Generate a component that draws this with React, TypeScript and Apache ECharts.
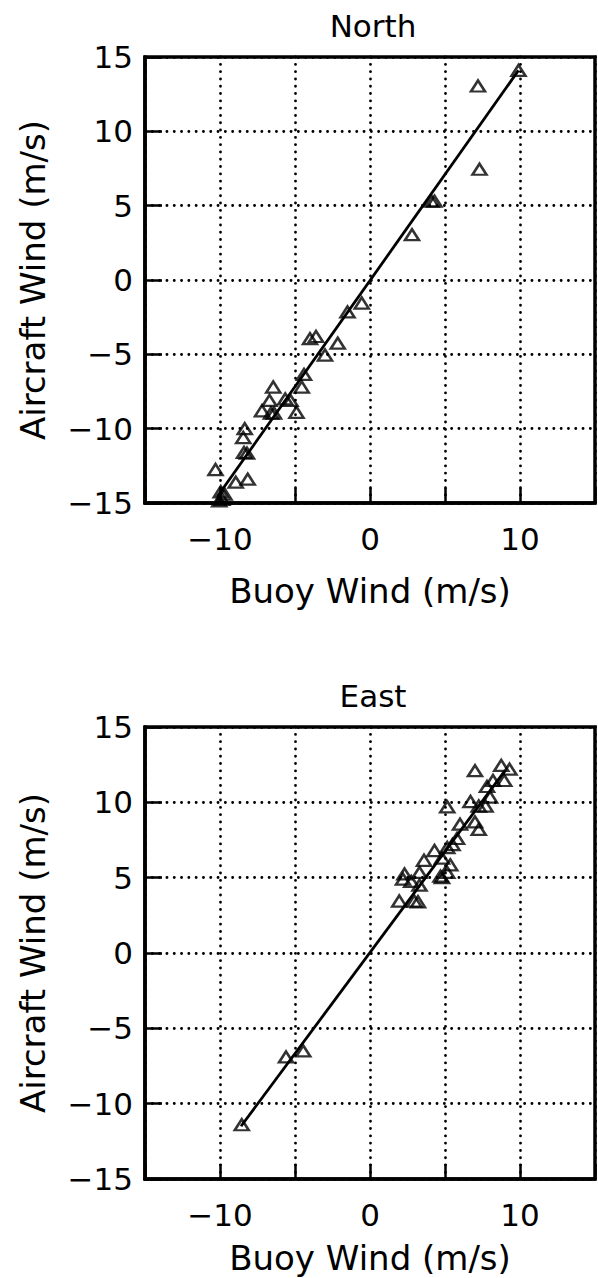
import React, { useEffect, useRef } from "react";
import * as echarts from "echarts";

// North component (m/s)
const northBuoy = [9.9, 7.2, 7.3, 4.1, 4.3, 2.8, -0.55, -1.5, -2.15, -3.0, -4.0, -3.6, -4.4, -4.55, -4.9, -5.3, -5.65, -6.45, -6.7, -7.2, -6.6, -6.4, -8.35, -8.45, -8.4, -8.2, -10.3, -8.95, -8.15, -9.95, -9.7, -10.05, -9.85];
const northAircraft = [14.1, 13.05, 7.45, 5.3, 5.3, 3.05, -1.55, -2.15, -4.25, -5.05, -3.95, -3.8, -6.35, -7.2, -8.9, -8.1, -8.0, -7.2, -8.1, -8.8, -8.95, -8.95, -10.0, -10.6, -11.6, -11.65, -12.75, -13.6, -13.4, -14.25, -14.4, -14.85, -14.75];
const northFitX = [-10.2, 9.9];
const northFitY = [-14.6, 14.1];

// East component (m/s)
const eastBuoy = [-8.55, -5.6, -4.45, 1.95, 2.95, 3.2, 2.3, 2.2, 2.75, 3.3, 3.3, 3.6, 4.3, 4.8, 4.7, 5.15, 5.35, 5.15, 5.5, 5.15, 5.8, 6.0, 6.7, 7.0, 7.25, 7.0, 7.25, 7.7, 8.0, 7.8, 8.2, 8.75, 9.3, 8.95, 4.8];
const eastAircraft = [-11.4, -6.9, -6.5, 3.45, 3.45, 3.4, 5.25, 4.9, 4.75, 4.5, 5.35, 6.15, 6.8, 6.3, 5.1, 5.35, 5.85, 7.0, 7.2, 9.7, 7.6, 8.55, 10.05, 8.7, 8.2, 12.1, 9.75, 9.75, 10.35, 11.05, 11.45, 12.45, 12.2, 11.45, 5.0];
const eastFitX = [-8.6, 9.0];
const eastFitY = [-11.5, 12.1];

const titles = ["North", "East"];
const xName = "Buoy Wind (m/s)";
const yName = "Aircraft Wind (m/s)";
const axisMin = -15;
const axisMax = 15;
const axisStep = 5;

const FONT = "DejaVu Sans";

const fmt = (v: number) => (v < 0 ? "\u2212" + Math.abs(v) : String(v));
const fmtX = (v: number) => (Math.abs(v) % 10 === 0 ? fmt(v) : "");

const zip = (a: number[], b: number[]) => a.map((v, i) => [v, b[i]]);

export default function App() {
  const ref = useRef<HTMLDivElement>(null);
  useEffect(() => {
    if (!ref.current) return;
    const chart = echarts.init(ref.current, undefined, { renderer: "svg" });

    const grids = [
      { left: 145, top: 57, width: 456, height: 446 },
      { left: 145, top: 727, width: 456, height: 452 },
    ];
    const xNameGaps = [71, 62];
    const titleTops = [10, 680];

    const dotted = {
      color: "#000",
      width: 2.8,
      type: [0.1, 7.2] as any,
      cap: "round" as const,
    };

    const xAxes = grids.map((_, i) => ({
      gridIndex: i,
      type: "value" as const,
      min: axisMin,
      max: axisMax,
      interval: axisStep,
      axisLine: { show: true, onZero: false, lineStyle: { color: "#000", width: 3.5 } },
      axisTick: { show: true, inside: true, length: 15, lineStyle: { color: "#000", width: 2.5 } },
      axisLabel: {
        formatter: fmtX,
        margin: 20,
        fontSize: 31,
        color: "#000",
        fontFamily: FONT,
        showMinLabel: true,
        showMaxLabel: true,
      },
      splitLine: { show: true, lineStyle: dotted },
      name: xName,
      nameLocation: "middle" as const,
      nameGap: xNameGaps[i],
      nameTextStyle: { fontSize: 34, color: "#000", fontFamily: FONT },
    }));

    const yAxes = grids.map((_, i) => ({
      gridIndex: i,
      type: "value" as const,
      min: axisMin,
      max: axisMax,
      interval: axisStep,
      axisLine: { show: true, onZero: false, lineStyle: { color: "#000", width: 3.5 } },
      axisTick: { show: true, inside: true, length: 17, lineStyle: { color: "#000", width: 2.5 } },
      axisLabel: {
        formatter: fmt,
        margin: 12,
        fontSize: 31,
        color: "#000",
        fontFamily: FONT,
        showMinLabel: true,
        showMaxLabel: true,
      },
      splitLine: { show: true, lineStyle: dotted },
      name: yName,
      nameLocation: "middle" as const,
      nameGap: 95,
      nameTextStyle: { fontSize: 34, color: "#000", fontFamily: FONT },
    }));

    const sets = [
      { x: northBuoy, y: northAircraft, fx: northFitX, fy: northFitY },
      { x: eastBuoy, y: eastAircraft, fx: eastFitX, fy: eastFitY },
    ];

    const series: any[] = [];
    sets.forEach((s, i) => {
      series.push({
        type: "line",
        xAxisIndex: i,
        yAxisIndex: i,
        data: zip(s.fx, s.fy),
        symbol: "none",
        lineStyle: { color: "#000", width: 2.8 },
        z: 3,
      });
      series.push({
        type: "scatter",
        xAxisIndex: i,
        yAxisIndex: i,
        data: zip(s.x, s.y),
        symbol: "triangle",
        symbolSize: [14, 11],
        itemStyle: { color: "rgba(255,255,255,0)", borderColor: "#000", borderWidth: 2.5 },
        z: 4,
      });
    });

    chart.setOption({
      animation: false,
      backgroundColor: "#fff",
      title: titles.map((t, i) => ({
        text: t,
        left: 373,
        top: titleTops[i],
        textAlign: "center",
        padding: 0,
        textStyle: { fontSize: 31, fontWeight: "normal", color: "#000", fontFamily: FONT },
      })),
      grid: grids.map((g) => ({
        ...g,
        show: true,
        borderColor: "#000",
        borderWidth: 3.5,
        backgroundColor: "transparent",
        containLabel: false,
      })),
      xAxis: xAxes,
      yAxis: yAxes,
      series,
    });

    return () => chart.dispose();
  }, []);

  return (
    <div
      ref={ref}
      style={{ position: "absolute", left: 0, top: 0, width: 598, height: 1278, background: "#fff" }}
    />
  );
}
